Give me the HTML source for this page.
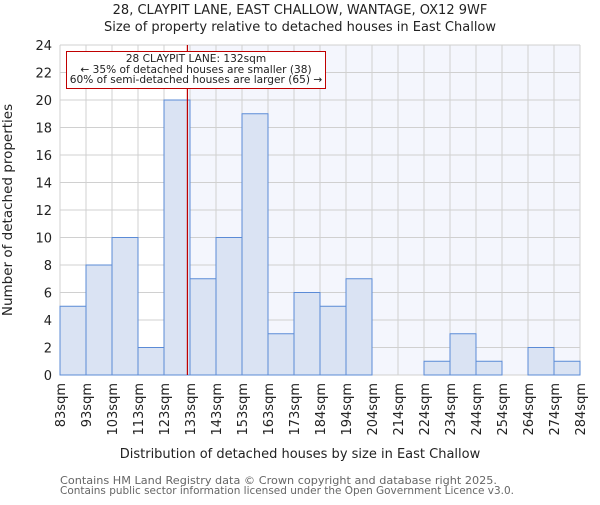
<!DOCTYPE html>
<html><head><meta charset="utf-8"><style>body{margin:0;background:#fff}svg{font-family:"DejaVu Sans","Liberation Sans",sans-serif}</style></head>
<body>
<svg id="c" width="600" height="500"></svg>
<script>
const categories=["83sqm","93sqm","103sqm","113sqm","123sqm","133sqm","143sqm","153sqm","163sqm","173sqm","184sqm","194sqm","204sqm","214sqm","224sqm","234sqm","244sqm","254sqm","264sqm","274sqm","284sqm"];
const counts=[5,8,10,2,20,7,10,19,3,6,5,7,0,0,1,3,1,0,2,1];
const yTicks=[0,2,4,6,8,10,12,14,16,18,20,22,24];
const markerValue=132;
const binStart=83, binWidth=10;
const L=60,R=580,T=45,B=375,yMax=24;
const n=counts.length, bw=(R-L)/n;
const xB=i=>L+i*bw;
const xV=v=>L+(v-binStart)/binWidth*bw;
const y=v=>B-(v/yMax)*(B-T);
const s=document.getElementById('c'),NS='http://www.w3.org/2000/svg';
function mk(t,a,p){const e=document.createElementNS(NS,t);for(const k in a)e.setAttribute(k,a[k]);(p||s).appendChild(e);return e;}
const mx=xV(markerValue);
let e;
e=mk('rect',{x:mx,y:T,width:R-mx,height:B-T,fill:'#f4f6fd'});


for(let i=0;i<=n;i++){e=mk('line',{x1:xB(i),x2:xB(i),y1:T,y2:B,stroke:'#d0d0d0'});

}
yTicks.forEach(v=>{e=mk('line',{x1:L,x2:R,y1:y(v),y2:y(v),stroke:'#d0d0d0'});


e=mk('text',{x:L-8,y:y(v)+5,'text-anchor':'end','font-size':13,fill:'#222'});e.textContent=v;

});
counts.forEach((c,i)=>{if(c<=0)return;e=mk('rect',{x:xB(i),y:y(c),width:bw,height:y(0)-y(c),fill:'#dae3f3',stroke:'#5b8bd6','stroke-width':1});

});
categories.forEach((c,i)=>{e=mk('text',{transform:`translate(${xB(i)+5},383) rotate(-90)`,'text-anchor':'end','font-size':13,fill:'#222'});e.textContent=c;

});
e=mk('line',{x1:mx,x2:mx,y1:T,y2:B,stroke:'#c00000','stroke-width':1.2});


const g=mk('g',{});


mk('rect',{x:66.5,y:51.5,width:259,height:37,fill:'#fff',stroke:'#c00000'},g);
[["28 CLAYPIT LANE: 132sqm",62],["← 35% of detached houses are smaller (38)",73],["60% of semi-detached houses are larger (65) →",83]].forEach(([t,yy])=>{const x=mk('text',{x:196,y:yy,'text-anchor':'middle','font-size':10.6,fill:'#222'},g);x.textContent=t;});
function txt(t,a,name){const x=mk('text',a);x.textContent=t;}
txt("28, CLAYPIT LANE, EAST CHALLOW, WANTAGE, OX12 9WF",{x:300,y:14,'text-anchor':'middle','font-size':13,fill:'#222'},'chart-title');
txt("Size of property relative to detached houses in East Challow",{x:300,y:31,'text-anchor':'middle','font-size':13,fill:'#222'},'chart-subtitle');
txt("Number of detached properties",{transform:'translate(12,210) rotate(-90)','text-anchor':'middle','font-size':13.5,fill:'#222'},'y-axis-title');
txt("Distribution of detached houses by size in East Challow",{x:300,y:458,'text-anchor':'middle','font-size':13,fill:'#222'},'x-axis-title');
txt("Contains HM Land Registry data © Crown copyright and database right 2025.",{x:60,y:484,'font-size':11,fill:'#666',textLength:437,lengthAdjust:'spacingAndGlyphs'},'footnote-line-1');
txt("Contains public sector information licensed under the Open Government Licence v3.0.",{x:60,y:494,'font-size':11,fill:'#666',textLength:454,lengthAdjust:'spacingAndGlyphs'},'footnote-line-2');
</script>
</body></html>
